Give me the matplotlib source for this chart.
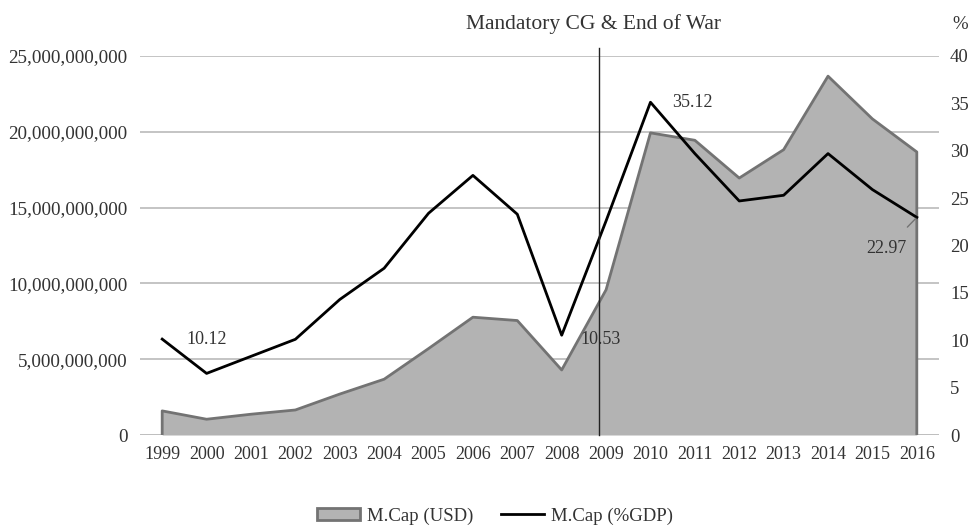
import matplotlib.pyplot as plt
from matplotlib.patches import Patch
from matplotlib.lines import Line2D
from matplotlib.ticker import FuncFormatter
import numpy as np

plt.rcParams['font.family'] = ['Liberation Serif', 'DejaVu Serif']

years = [str(y) for y in range(1999, 2017)]
# market cap in USD
mcap_usd = [1.59e9, 1.04e9, 1.37e9, 1.65e9, 2.70e9, 3.68e9, 5.70e9, 7.77e9, 7.55e9,
            4.29e9, 9.58e9, 19.93e9, 19.44e9, 16.95e9, 18.82e9, 23.67e9, 20.85e9, 18.67e9]
# market cap as % of GDP
mcap_gdp = [10.12, 6.5, 8.3, 10.1, 14.3, 17.6, 23.4, 27.4, 23.3,
            10.53, 22.6, 35.12, 29.7, 24.7, 25.3, 29.7, 25.9, 22.97]
labelled = {0: (44, 0), 9: (39, -4), 11: (42, 0), 17: (-30, -31)}
event_x = 9.83
event_text = "Mandatory CG & End of War"

txt = '#333333'
x = np.arange(len(years))

fig = plt.figure(figsize=(9.73, 5.25), dpi=100)
ax = fig.add_axes([140/973, 90/525, 799/973, 379/525])
ax2 = ax.twinx()

# area
ax.fill_between(x, mcap_usd, 0, color='#b3b3b3', lw=0, zorder=2)
ax.plot(np.r_[x[0], x, x[-1]], np.r_[0, mcap_usd, 0], color='#737373', lw=2, zorder=3)

ax.set_ylim(0, 25e9)
ax.set_xlim(-0.5, len(years) - 0.5)
ax.set_yticks(np.arange(0, 25.1e9, 5e9))
ax.yaxis.set_major_formatter(FuncFormatter(lambda v, p: f"{v:,.0f}"))
ax.set_xticks(x)
ax.set_xticklabels(years)
ax.grid(axis='y', color='#bfbfbf', lw=1.3, zorder=0)
ax.set_axisbelow(True)

# line
ax2.plot(x, mcap_gdp, color='black', lw=2, zorder=5)
ax2.set_ylim(0, 40)
ax2.set_yticks(range(0, 41, 5))

for a in (ax, ax2):
    for s in a.spines.values():
        s.set_visible(False)
    a.tick_params(length=0, labelsize=13, colors=txt)
ax.tick_params(axis='y', pad=9, labelsize=13.8)
ax.tick_params(axis='x', pad=8)
ax2.tick_params(axis='y', pad=8, labelsize=13.5)
ax.axhline(0, color='#bfbfbf', lw=1.3, zorder=1)

for i, off in labelled.items():
    if off[1] < -20:
        ax2.annotate(f"{mcap_gdp[i]:.2f}", xy=(x[i], mcap_gdp[i]), xytext=off,
                     textcoords='offset pixels', ha='center', va='center', fontsize=13,
                     color=txt, zorder=6,
                     arrowprops=dict(arrowstyle='-', color='#737373', lw=1,
                                     shrinkA=10, shrinkB=1))
    else:
        ax2.annotate(f"{mcap_gdp[i]:.2f}", xy=(x[i], mcap_gdp[i]), xytext=off,
                     textcoords='offset pixels', ha='center', va='center', fontsize=13,
                     color=txt, zorder=6)

# event marker
ax2.axvline(event_x, ymin=0, ymax=1.02, color='#222222', lw=1, clip_on=False, zorder=6)
ax2.text(event_x - 0.11, 1.083, event_text, transform=ax2.get_xaxis_transform(),
         ha='center', va='center', fontsize=15.5, color=txt)
ax2.text(1.026, 1.083, "%", transform=ax2.transAxes, ha='center', va='center',
         fontsize=13.5, color=txt)

handles = [Patch(facecolor='#b3b3b3', edgecolor='#737373', lw=2, label='M.Cap (USD)'),
           Line2D([], [], color='black', lw=2, label='M.Cap (%GDP)')]
fig.legend(handles=handles, loc='center', bbox_to_anchor=(495/973, 1 - 516/525),
           ncol=2, frameon=False, fontsize=13.5, handlelength=2.3, handleheight=0.6,
           handletextpad=0.35, columnspacing=1.5, labelcolor=txt)

fig.savefig('out.png', dpi=100)
